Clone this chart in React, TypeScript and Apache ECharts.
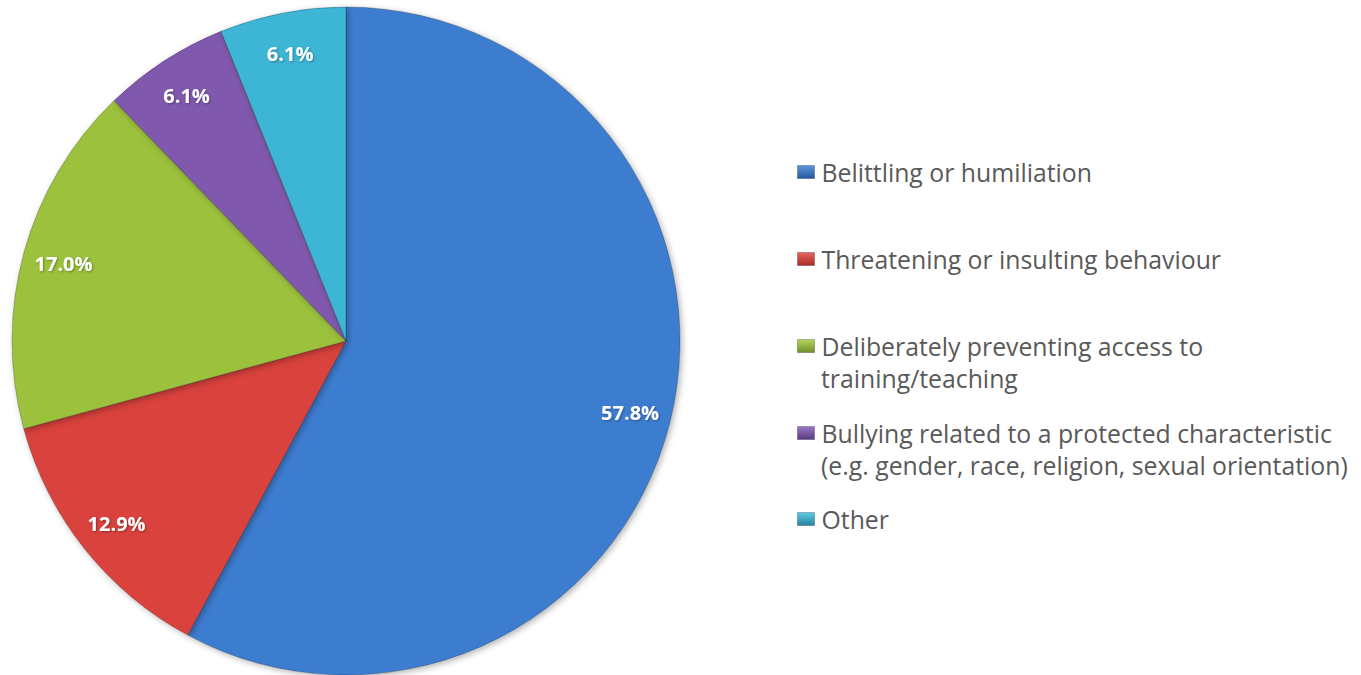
import React, { useEffect, useRef } from "react";
import * as echarts from "echarts";

const categories = [
  "Belittling or humiliation",
  "Threatening or insulting behaviour",
  "Deliberately preventing access to training/teaching",
  "Bullying related to a protected characteristic (e.g. gender, race, religion, sexual orientation)",
  "Other",
];
const values = [57.8, 12.9, 17.0, 6.1, 6.1];
const legendFirstLines = [
  "Belittling or humiliation",
  "Threatening or insulting behaviour",
  "Deliberately preventing access to",
  "Bullying related to a protected characteristic",
  "Other",
];
const legendSecondLines = ["", "", "training/teaching", "(e.g. gender, race, religion, sexual orientation)", ""];
const sliceColors = ["#3e7dd0", "#d9433d", "#9cc13e", "#8059ad", "#3db5d5"];
const iconLight = ["#5b97e0", "#e86560", "#b4d65a", "#9a78c4", "#5fcbe6"];
const iconDark = ["#24569c", "#a82a27", "#6f8f28", "#553980", "#23829f"];

const legendCenters = [172, 259, 346, 433, 519];

export default function App() {
  const ref = useRef<HTMLDivElement>(null);
  useEffect(() => {
    if (!ref.current) return;
    const chart = echarts.init(ref.current, null, { renderer: "svg" });
    const font = "Open Sans";
    const fontSize = 24.8;
    const lh = 30;
    const data = categories.map((name, i) => ({
      name,
      value: values[i],
      itemStyle: { color: sliceColors[i] },
    }));
    const legends = categories.map((name, i) => ({
      orient: "vertical",
      left: 797,
      top: legendCenters[i] - lh / 2,
      padding: 0,
      itemWidth: 17,
      itemHeight: 13,
      icon: "rect",
      selectedMode: false,
      data: [
        {
          name,
          itemStyle: {
            color: new echarts.graphic.LinearGradient(0, 0, 0, 1, [
              { offset: 0, color: iconLight[i] },
              { offset: 1, color: iconDark[i] },
            ]),
            borderColor: "rgba(0,0,0,0.25)",
            borderWidth: 1,
          },
        },
      ],
      formatter: () => legendFirstLines[i],
      textStyle: {
        color: "#595959",
        fontFamily: font,
        fontSize,
        lineHeight: lh,
        padding: [0, 0, 0, 2],
      },
    }));
    const graphics = legendSecondLines
      .map((t, i) => ({ t, i }))
      .filter((o) => o.t)
      .map((o) => ({
        type: "text",
        left: 821,
        top: legendCenters[o.i] + 32 - lh / 2,
        style: {
          text: o.t,
          fill: "#595959",
          font: `${fontSize}px '${font}'`,
          lineHeight: lh,
        },
      }));
    chart.setOption({
      animation: false,
      backgroundColor: "#ffffff",
      legend: legends,
      graphic: graphics,
      series: [
        {
          type: "pie",
          center: [346, 341],
          radius: [0, 334],
          startAngle: 90,
          clockwise: true,
          silent: true,
          data,
          label: { show: false },
          labelLine: { show: false },
          itemStyle: {
            borderColor: "rgba(0,0,0,0.22)",
            borderWidth: 1,
            shadowBlur: 6,
            shadowOffsetX: 2,
            shadowOffsetY: 2,
            shadowColor: "rgba(0,0,0,0.3)",
          },
        },
        {
          type: "pie",
          center: [346, 341],
          radius: [246, 334],
          startAngle: 90,
          clockwise: true,
          silent: true,
          data: categories.map((name, i) => ({ name, value: values[i] })),
          itemStyle: { color: "rgba(0,0,0,0)" },
          label: {
            show: true,
            position: "inside",
            formatter: (p: any) => `${Number(p.value).toFixed(1)}%`,
            color: "#ffffff",
            fontFamily: font,
            fontWeight: "bold",
            fontSize: 20,
            textShadowColor: "rgba(0,0,0,0.35)",
            textShadowBlur: 2,
            textShadowOffsetX: 1,
            textShadowOffsetY: 1,
          },
          labelLine: { show: false },
        },
      ],
    });
    return () => chart.dispose();
  }, []);
  return (
    <div
      ref={ref}
      style={{ position: "fixed", left: 0, top: 0, width: 1361, height: 675 }}
    />
  );
}
